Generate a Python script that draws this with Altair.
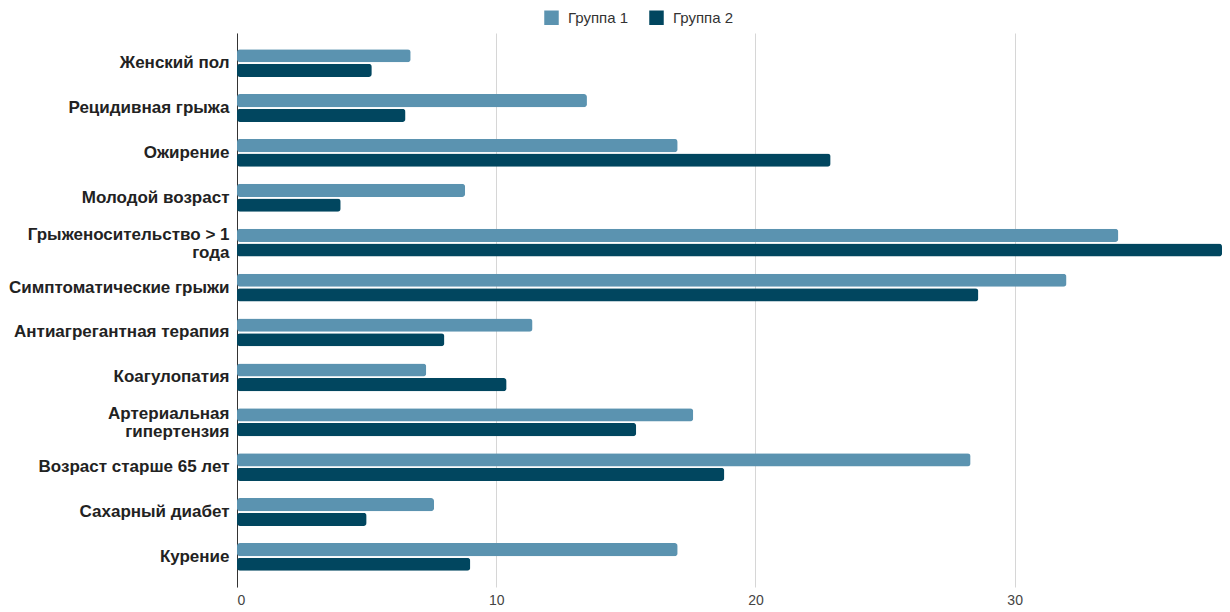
import altair as alt
import pandas as pd

categories = [
    "Женский пол",
    "Рецидивная грыжа",
    "Ожирение",
    "Молодой возраст",
    "Грыженосительство > 1\nгода",
    "Симптоматические грыжи",
    "Антиагрегантная терапия",
    "Коагулопатия",
    "Артериальная\nгипертензия",
    "Возраст старше 65 лет",
    "Сахарный диабет",
    "Курение",
]
group1 = [6.7, 13.5, 17.0, 8.8, 34.0, 32.0, 11.4, 7.3, 17.6, 28.3, 7.6, 17.0]
group2 = [5.2, 6.5, 22.9, 4.0, 38.0, 28.6, 8.0, 10.4, 15.4, 18.8, 5.0, 9.0]
series = ["Группа 1", "Группа 2"]
colors = ["#5b93b0", "#01465f"]
x_ticks = [0, 10, 20, 30]

rows = []
for c, a, b in zip(categories, group1, group2):
    rows.append({"category": c, "group": series[0], "value": a})
    rows.append({"category": c, "group": series[1], "value": b})
df = pd.DataFrame(rows)

FONT = "Liberation Sans, Arial, sans-serif"

chart = alt.Chart(df).mark_bar(cornerRadius=3).encode(
    y=alt.Y(
        "category:N",
        sort=categories,
        title=None,
        scale=alt.Scale(paddingInner=0.38, paddingOuter=0.36),
        axis=alt.Axis(
            labelExpr="split(datum.label, '\\n')",
            labelFont=FONT,
            labelFontSize=17,
            labelFontWeight="bold",
            labelColor="#222222",
            labelPadding=8,
            labelLineHeight=18,
            labelBaseline="middle",
            labelOffset={
                "condition": {"test": "indexof(datum.value, '\\n') >= 0", "value": -8},
                "value": 0,
            },
            ticks=False,
            domain=True,
            domainColor="#333333",
            domainWidth=1,
            grid=False,
            labelLimit=260,
        ),
    ),
    yOffset=alt.YOffset("group:N", sort=series, scale=alt.Scale(paddingInner=0.1)),
    x=alt.X(
        "value:Q",
        title=None,
        scale=alt.Scale(domain=[0, 38], nice=False),
        axis=alt.Axis(
            values=x_ticks,
            labelFont=FONT,
            labelFontSize=14,
            labelColor="#444444",
            labelPadding=6,
            ticks=False,
            domain=False,
            grid=True,
            gridColor="#d6d6d6",
            gridWidth=1,
        ),
    ),
    color=alt.Color(
        "group:N",
        sort=series,
        scale=alt.Scale(domain=series, range=colors),
        legend=alt.Legend(
            title=None,
            orient="none",
            direction="horizontal",
            legendX=307,
            legendY=-23,
            symbolType="square",
            symbolSize=210,
            symbolStrokeWidth=0,
            labelFont=FONT,
            labelFontSize=15,
            labelColor="#333333",
            columnPadding=20,
            labelOffset=9,
        ),
    ),
).properties(
    width=985,
    height=554,
    autosize=alt.AutoSizeParams(type="none"),
    padding={"left": 237, "top": 33, "right": 8, "bottom": 25},
).configure_view(stroke=None)

chart.save("out.html", embed_options={"renderer": "svg", "actions": False})
